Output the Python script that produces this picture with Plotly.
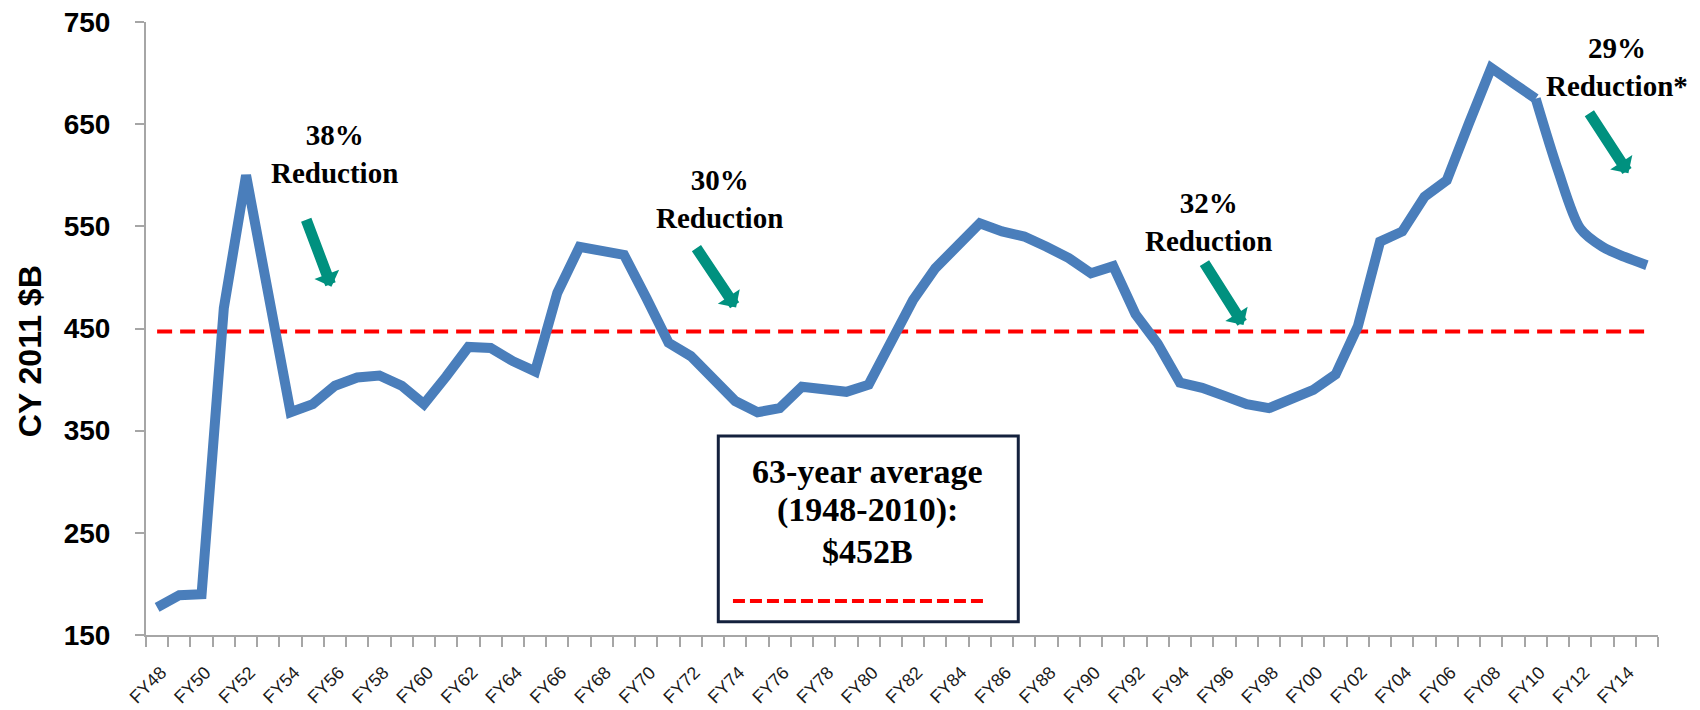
import plotly.graph_objects as go

# ---------------- data ----------------
years = list(range(1948, 2016))
fy_labels = ["FY%02d" % (y % 100) for y in years]
budget = [177, 189, 190, 470, 600, 488, 368, 376, 394, 402,
          404, 394, 376, 403, 432, 431, 418, 408, 485, 530,
          526, 522, 480, 436, 423, 400, 379, 368, 372, 393,
          390, 388, 395, 439, 478, 509, 530, 553, 545, 540,
          530, 519, 504, 511, 464, 435, 397, 392, 384, 376,
          372, 382, 390, 405, 452, 535, 545, 579, 595, 651,
          705, 690, 675, 605, 548, 530, 520, 512]
average_value = 447
average = [average_value] * len(years)
proj_start = 2010  # smoothed projection segment

reductions = ["38%<br>Reduction", "30%<br>Reduction", "32%<br>Reduction", "29%<br>Reduction*"]
red_text_pos = [(1955.97, 620.8), (1973.27, 576.8), (1995.3, 554.7), (2013.65, 706.4)]
arrow_tail = [(1954.68, 557.9), (1972.21, 530.1), (1995.06, 515.4), (2012.37, 662.2)]
arrow_tip = [(1955.84, 490.9), (1974.04, 470.6), (1996.86, 453.4), (2014.17, 601.9)]

box_lines = ["63-year average", "(1948-2010):", "$452B"]
box_line_y = [0.2664, 0.2039, 0.1359]

BLUE = "#4a7ebb"
RED = "#ff0000"
TEAL = "#00917f"
GRAY = "#a6a6a6"
SERIF = "Liberation Serif, Times New Roman, serif"
SANS = "Liberation Sans, Arial, sans-serif"

fig = go.Figure()

# average dashed line
fig.add_trace(go.Scatter(x=years, y=average, mode="lines",
                         line=dict(color=RED, width=4, dash="15px,8px"),
                         hoverinfo="skip", showlegend=False))

# historical (linear) segment
i_split = years.index(proj_start)
fig.add_trace(go.Scatter(x=years[:i_split + 1], y=budget[:i_split + 1], mode="lines",
                         line=dict(color=BLUE, width=10), showlegend=False))
# projection segment (smoothed)
fig.add_trace(go.Scatter(x=years[i_split:], y=budget[i_split:], mode="lines",
                         line=dict(color=BLUE, width=10, shape="spline", smoothing=0.8),
                         showlegend=False))

# reduction labels
for txt, (tx, ty) in zip(reductions, red_text_pos):
    fig.add_annotation(x=tx, y=ty, xref="x", yref="y", text="<b>%s</b>" % txt,
                       showarrow=False, xanchor="center", yanchor="middle",
                       font=dict(family=SERIF, size=29, color="black"))

# teal arrows
for (ax, ay), (x, y) in zip(arrow_tail, arrow_tip):
    fig.add_annotation(x=x, y=y, ax=ax, ay=ay, xref="x", yref="y", axref="x", ayref="y",
                       text="", showarrow=True, arrowhead=1, arrowsize=0.4,
                       arrowwidth=11, arrowcolor=TEAL, standoff=0, startstandoff=0)

# average box
fig.add_shape(type="rect", xref="paper", yref="paper",
              x0=0.3785, x1=0.5769, y0=0.0217, y1=0.3246,
              line=dict(color="#14213d", width=3), fillcolor="white", layer="above")
for txt, ly in zip(box_lines, box_line_y):
    fig.add_annotation(xref="paper", yref="paper", x=0.4775, y=ly,
                       text="<b>%s</b>" % txt,
                       showarrow=False, xanchor="center", yanchor="middle",
                       font=dict(family=SERIF, size=34, color="black"))
fig.add_shape(type="line", xref="paper", yref="paper",
              x0=0.3882, x1=0.5549, y0=0.0555, y1=0.0555,
              line=dict(color=RED, width=4, dash="12px,5px"), layer="above")

# y-axis title as rotated text
fig.add_annotation(xref="paper", yref="paper", x=-0.0767, y=0.463,
                   text="<b>CY 2011 $B</b>", textangle=-90, showarrow=False,
                   xanchor="center", yanchor="middle",
                   font=dict(family=SANS, size=32, color="black"))

fig.update_layout(
    width=1700, height=710,
    margin=dict(l=138, r=50, t=14, b=83),
    plot_bgcolor="white", paper_bgcolor="white",
    showlegend=False,
)
fig.update_xaxes(
    range=[1947.5, 2015.5], automargin=False,
    tickmode="array", tickvals=years[::2], ticktext=fy_labels[::2],
    tickangle=-45, ticks="", showline=True, linecolor=GRAY, linewidth=2,
    showgrid=False, zeroline=False, ticklabelshift=4, ticklabelstandoff=18,
    tickfont=dict(family=SANS, size=18, color="#1a1a1a"),
    minor=dict(tickmode="array", tickvals=[y - 0.5 for y in years] + [years[-1] + 0.5],
               ticks="outside", ticklen=10, tickwidth=1.5, tickcolor=GRAY, showgrid=False),
)
fig.update_yaxes(
    range=[150, 750], tickmode="array", tickvals=list(range(150, 751, 100)),
    automargin=False, ticklabeloverflow="allow",
    ticks="outside", ticklen=9, tickwidth=1.5, tickcolor=GRAY,
    showline=True, linecolor=GRAY, linewidth=2, showgrid=False, zeroline=False,
    tickfont=dict(family=SANS, size=28, color="black", weight="bold"),
    ticklabelstandoff=19,
)

fig.write_html("out.html")
